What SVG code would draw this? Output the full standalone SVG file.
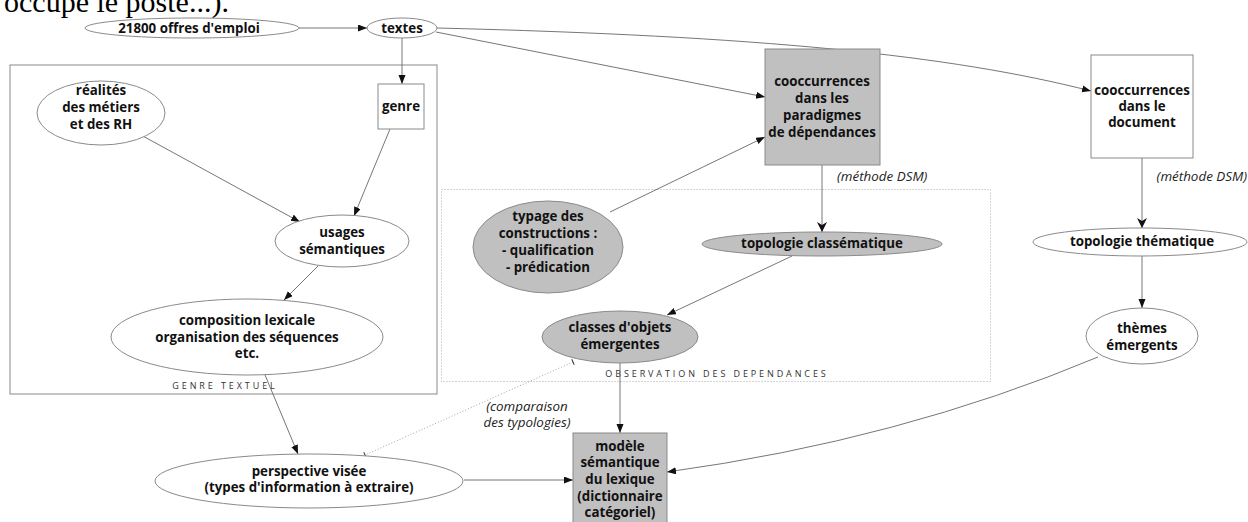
<svg xmlns="http://www.w3.org/2000/svg" width="1248" height="522" viewBox="0 0 1248 522">
<style>
.n{fill:#fff;stroke:#8a8a8a;stroke-width:1}
.g{fill:#c0c0c0;stroke:#8a8a8a;stroke-width:1}
.t{font-family:"Open Sans","DejaVu Sans",sans-serif;font-size:13.3px;font-weight:700;fill:#111;text-anchor:middle}
.i{font-family:"Open Sans","DejaVu Sans",sans-serif;font-size:13.4px;font-style:italic;fill:#222}
.c{font-family:"Open Sans","DejaVu Sans",sans-serif;font-size:9px;letter-spacing:2.9px;fill:#333;text-anchor:middle}
.e{fill:none;stroke:#666;stroke-width:0.9}
</style>
<defs>
<marker id="a" markerUnits="userSpaceOnUse" markerWidth="12" markerHeight="10" refX="9" refY="3.5" orient="auto">
<path d="M0,0 L9,3.5 L0,7 z" fill="#111"/>
</marker>
<marker id="v" markerUnits="userSpaceOnUse" markerWidth="12" markerHeight="12" refX="10" refY="5" orient="auto">
<path d="M0,0 L10,5 L0,10 L3,5 z" fill="#111"/>
</marker>
<marker id="k" markerUnits="userSpaceOnUse" markerWidth="4" markerHeight="8" refX="1" refY="4" orient="auto">
<path d="M1,1 L1,7" stroke="#333" stroke-width="1"/>
</marker>
</defs>
<text x="4" y="11.5" font-family="Liberation Serif, serif" font-size="30" fill="#000">occupe le poste...).</text>

<g id="cluster-genre">
<rect x="10" y="65" width="427" height="329" fill="none" stroke="#8a8a8a" stroke-width="1"/>
<text class="c" x="225" y="389">GENRE TEXTUEL</text>
</g>
<g id="cluster-observation">
<rect x="441.5" y="189.5" width="549" height="192" fill="none" stroke="#aaa" stroke-width="1" stroke-dasharray="1,2"/>
<text class="c" x="717" y="377">OBSERVATION DES DEPENDANCES</text>
</g>

<g id="edges">
<path class="e" d="M299,28 L367,28" marker-end="url(#a)"/>
<path class="e" d="M402,38 L402,84" marker-end="url(#a)"/>
<path class="e" d="M436,32 L765,97" marker-end="url(#a)"/>
<path class="e" d="M437,28 C760,36 950,55 1091,91" marker-end="url(#a)"/>
<path class="e" d="M141,135 L300,222" marker-end="url(#a)"/>
<path class="e" d="M390,129 L354,216" marker-end="url(#a)"/>
<path class="e" d="M318,266 L284,300" marker-end="url(#a)"/>
<path class="e" d="M265,375 L298,454" marker-end="url(#a)"/>
<path class="e" d="M464,480 L573,480" marker-end="url(#a)"/>
<path d="M573,362 L365,455" fill="none" stroke="#999" stroke-width="0.9" stroke-dasharray="1,2" marker-start="url(#k)" marker-end="url(#k)"/>
<path class="e" d="M610,212 L765,137" marker-end="url(#a)"/>
<path class="e" d="M822,165 L822,232" marker-end="url(#v)"/>
<path class="e" d="M792,256 L667,315" marker-end="url(#a)"/>
<path class="e" d="M620,363 L620,433" marker-end="url(#a)"/>
<path class="e" d="M1142,158 L1142,228" marker-end="url(#v)"/>
<path class="e" d="M1142,256 L1142,308" marker-end="url(#a)"/>
<path class="e" d="M1098,357 Q900,440 667,472" marker-end="url(#a)"/>
<text class="i" x="837" y="181">(méthode DSM)</text>
<text class="i" x="1247" y="181" text-anchor="end">(méthode DSM)</text>
<text class="i" x="527" y="411" text-anchor="middle">(comparaison</text>
<text class="i" x="527" y="427" text-anchor="middle">des typologies)</text>
</g>

<g id="offres">
<ellipse class="n" cx="192" cy="28" rx="107" ry="10"/>
<text class="t" x="189" y="32.5">21800 offres d'emploi</text>
</g>
<g id="textes">
<ellipse class="n" cx="402" cy="28" rx="35" ry="10"/>
<text class="t" x="402" y="32.5">textes</text>
</g>
<g id="realites">
<ellipse class="n" cx="101" cy="113" rx="64" ry="32"/>
<text class="t" x="101" y="95">réalités</text>
<text class="t" x="101" y="112">des métiers</text>
<text class="t" x="101" y="129">et des RH</text>
</g>
<g id="genre">
<rect class="n" x="378" y="84" width="46" height="45"/>
<text class="t" x="401" y="111">genre</text>
</g>
<g id="usages">
<ellipse class="n" cx="342" cy="241" rx="67" ry="26"/>
<text class="t" x="342" y="237">usages</text>
<text class="t" x="342" y="254">sémantiques</text>
</g>
<g id="composition">
<ellipse class="n" cx="247" cy="337" rx="136" ry="38"/>
<text class="t" x="247" y="325">composition lexicale</text>
<text class="t" x="247" y="342">organisation des séquences</text>
<text class="t" x="247" y="358">etc.</text>
</g>
<g id="perspective">
<ellipse class="n" cx="309" cy="481" rx="154" ry="27"/>
<text class="t" x="309" y="476">perspective visée</text>
<text class="t" x="309" y="492">(types d'information à extraire)</text>
</g>
<g id="cooc-dep">
<rect class="g" x="765" y="49" width="115" height="116"/>
<text class="t" x="822" y="86">cooccurrences</text>
<text class="t" x="822" y="103">dans les</text>
<text class="t" x="822" y="120">paradigmes</text>
<text class="t" x="822" y="137">de dépendances</text>
</g>
<g id="cooc-doc">
<rect class="n" x="1091" y="55" width="102" height="103"/>
<text class="t" x="1142" y="95">cooccurrences</text>
<text class="t" x="1142" y="111">dans le</text>
<text class="t" x="1142" y="127">document</text>
</g>
<g id="typage">
<ellipse class="g" cx="548" cy="247" rx="75" ry="46"/>
<text class="t" x="548" y="221">typage des</text>
<text class="t" x="548" y="238">constructions :</text>
<text class="t" x="548" y="255">- qualification</text>
<text class="t" x="548" y="272">- prédication</text>
</g>
<g id="topo-class">
<ellipse class="g" cx="822" cy="244" rx="120" ry="12"/>
<text class="t" x="822" y="248">topologie classématique</text>
</g>
<g id="topo-them">
<ellipse class="n" cx="1140" cy="242" rx="107" ry="14"/>
<text class="t" x="1142" y="246">topologie thématique</text>
</g>
<g id="classes">
<ellipse class="g" cx="620" cy="337" rx="78" ry="26"/>
<text class="t" x="620" y="332">classes d'objets</text>
<text class="t" x="620" y="349">émergentes</text>
</g>
<g id="themes">
<ellipse class="n" cx="1142" cy="336" rx="56" ry="28"/>
<text class="t" x="1142" y="333">thèmes</text>
<text class="t" x="1142" y="350">émergents</text>
</g>
<g id="modele">
<rect class="g" x="573" y="433" width="94" height="100"/>
<text class="t" x="620" y="451">modèle</text>
<text class="t" x="620" y="467">sémantique</text>
<text class="t" x="620" y="484">du lexique</text>
<text class="t" x="620" y="501">(dictionnaire</text>
<text class="t" x="620" y="517">catégoriel)</text>
</g>
</svg>
